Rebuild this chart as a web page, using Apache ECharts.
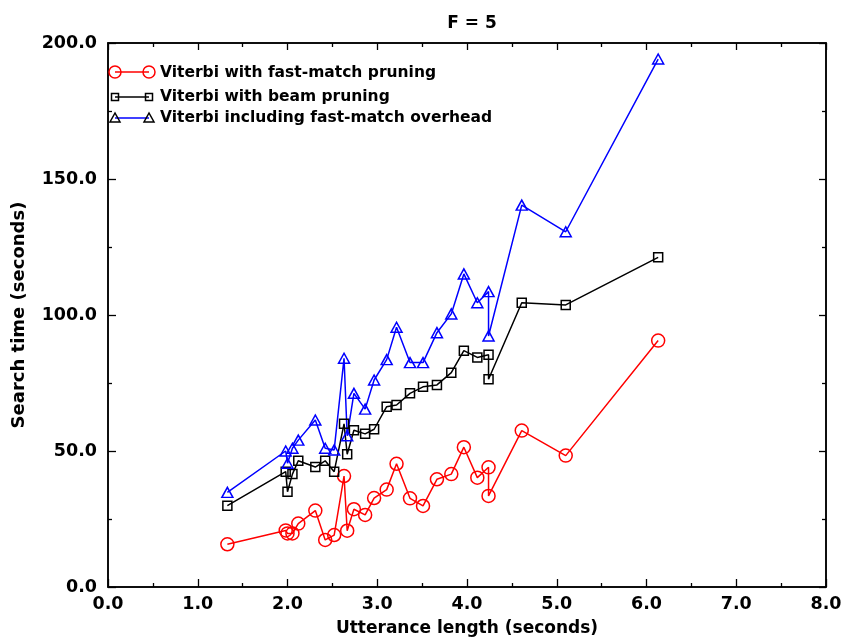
<!DOCTYPE html>
<html>
<head>
<meta charset="utf-8">
<script src="https://cdn.jsdelivr.net/npm/echarts@6/dist/echarts.min.js"></script>
<style>html,body{margin:0;padding:0;background:#fff}#c{width:841px;height:638px}</style>
</head>
<body>
<div id="c"></div>
<script>
const utteranceLength = [1.33, 1.98, 2.00, 2.055, 2.12, 2.31, 2.42, 2.52, 2.63, 2.665, 2.74, 2.865, 2.965, 3.105, 3.215, 3.365, 3.51, 3.665, 3.825, 3.965, 4.115, 4.24, 4.24, 4.61, 5.10, 6.13];
const fastMatch = [15.7, 20.8, 19.7, 19.7, 23.3, 28.1, 17.3, 19.1, 40.8, 20.7, 28.6, 26.5, 32.7, 35.8, 45.3, 32.6, 29.8, 39.6, 41.5, 51.4, 40.2, 44.0, 33.5, 57.5, 48.3, 90.6];
const beamPruning = [29.9, 42.4, 35.0, 41.5, 46.4, 44.1, 46.4, 42.4, 60.0, 48.8, 57.6, 56.3, 58.0, 66.3, 66.9, 71.2, 73.6, 74.3, 78.8, 86.9, 84.4, 85.4, 76.4, 104.5, 103.7, 121.2];
const withOverhead = [34.8, 50.0, 45.5, 51.0, 54.0, 61.4, 51.0, 50.4, 84.1, 55.6, 71.2, 65.4, 76.1, 83.6, 95.5, 82.5, 82.5, 93.5, 100.4, 115.1, 104.5, 108.6, 92.3, 140.4, 130.6, 194.1];
const seriesNames = ['Viterbi with fast-match pruning', 'Viterbi with beam pruning', 'Viterbi including fast-match overhead'];
const titleText = 'F = 5';
const xName = 'Utterance length (seconds)';
const yName = 'Search time (seconds)';

const FONT = 'DejaVu Sans';
const pairs = ys => utteranceLength.map((x, i) => [x, ys[i]]);
const chart = echarts.init(document.getElementById('c'));

const axisLine = { show: true, onZero: false, lineStyle: { color: '#000', width: 1.5 } };
const tickStyle = { color: '#000', width: 1.3 };

function mkSeries(name, ys, color, symbol, size) {
  return {
    type: 'line', name, data: pairs(ys), symbol, symbolSize: size,
    xAxisIndex: 0, yAxisIndex: 0,
    lineStyle: { color, width: 1.5 },
    itemStyle: { color: 'rgba(0,0,0,0)', borderColor: color, borderWidth: 1.5 },
    emphasis: { disabled: true }, animation: false, z: 3
  };
}

const legendRows = [
  { y: 72, ty: 75, color: '#ff0000', mark: 'circle' },
  { y: 97, ty: 99, color: '#000000', mark: 'rect' },
  { y: 118, ty: 120, color: '#0000ff', mark: 'tri' }
];
const graphics = [];
legendRows.forEach((r, i) => {
  const x1 = 115, x2 = 149;
  graphics.push({ type: 'line', shape: { x1, y1: r.y, x2, y2: r.y }, style: { stroke: r.color, lineWidth: 1.5 }, z: 10 });
  [x1, x2].forEach(cx => {
    if (r.mark === 'circle') graphics.push({ type: 'circle', shape: { cx, cy: r.y, r: 6 }, style: { fill: 'rgba(0,0,0,0)', stroke: '#ff0000', lineWidth: 1.5 }, z: 11 });
    else if (r.mark === 'rect') graphics.push({ type: 'rect', shape: { x: cx - 3.5, y: r.y - 3.5, width: 7, height: 7 }, style: { fill: 'rgba(0,0,0,0)', stroke: '#000', lineWidth: 1.5 }, z: 11 });
    else graphics.push({ type: 'polygon', shape: { points: [[cx, r.y - 5], [cx - 5, r.y + 4], [cx + 5, r.y + 4]] }, style: { fill: 'rgba(0,0,0,0)', stroke: '#000', lineWidth: 1.5 }, z: 11 });
  });
  graphics.push({ type: 'text', left: 160, top: r.ty - 10, style: { text: seriesNames[i], font: 'bold 15.5px "' + FONT + '"', fill: '#000' }, z: 11 });
});

const labelStyle = { fontFamily: FONT, fontWeight: 'bold', fontSize: 17.5, color: '#000', formatter: v => v.toFixed(1) };

chart.setOption({
  animation: false,
  backgroundColor: '#fff',
  title: { text: titleText, left: 467, top: 10, textAlign: 'center', textStyle: { fontFamily: FONT, fontWeight: 'bold', fontSize: 17, color: '#000' } },
  grid: { left: 108, right: 15, top: 43, bottom: 51, containLabel: false, outerBoundsMode: 'none', show: true, borderColor: '#000', borderWidth: 1.5, backgroundColor: 'rgba(0,0,0,0)' },
  xAxis: [
    { type: 'value', gridIndex: 0, min: 0, max: 8, interval: 1, position: 'bottom',
      name: xName, nameLocation: 'middle', nameGap: 33, nameMoveOverlap: false,
      nameTextStyle: { fontFamily: FONT, fontWeight: 'bold', fontSize: 17, color: '#000' },
      axisLine, axisTick: { show: true, inside: true, length: 8, lineStyle: tickStyle },
      minorTick: { show: true, splitNumber: 2, length: 4, lineStyle: tickStyle },
      splitLine: { show: false },
      axisLabel: Object.assign({ margin: 8 }, labelStyle) },
    { type: 'value', gridIndex: 0, min: 0, max: 8, interval: 1, position: 'top',
      axisLine, axisTick: { show: true, inside: true, length: 7, lineStyle: tickStyle },
      minorTick: { show: true, splitNumber: 2, length: 4, lineStyle: tickStyle },
      splitLine: { show: false }, axisLabel: { show: false } }
  ],
  yAxis: [
    { type: 'value', gridIndex: 0, min: 0, max: 200, interval: 50, position: 'left',
      name: yName, nameLocation: 'middle', nameGap: 80, nameRotate: 90, nameMoveOverlap: false,
      nameTextStyle: { fontFamily: FONT, fontWeight: 'bold', fontSize: 18, color: '#000' },
      axisLine, axisTick: { show: true, inside: true, length: 8, lineStyle: tickStyle },
      minorTick: { show: true, splitNumber: 2, length: 4, lineStyle: tickStyle },
      splitLine: { show: false },
      axisLabel: Object.assign({ margin: 11 }, labelStyle) },
    { type: 'value', gridIndex: 0, min: 0, max: 200, interval: 50, position: 'right',
      axisLine, axisTick: { show: true, inside: true, length: 7, lineStyle: tickStyle },
      minorTick: { show: true, splitNumber: 2, length: 4, lineStyle: tickStyle },
      splitLine: { show: false }, axisLabel: { show: false } }
  ],
  series: [
    mkSeries(seriesNames[0], fastMatch, '#ff0000', 'circle', 13),
    mkSeries(seriesNames[1], beamPruning, '#000000', 'rect', 9),
    mkSeries(seriesNames[2], withOverhead, '#0000ff', 'triangle', [11, 10]),
    { type: 'line', xAxisIndex: 1, yAxisIndex: 1, data: [], silent: true, symbol: 'none' }
  ],
  graphic: graphics
});
</script>
</body>
</html>
